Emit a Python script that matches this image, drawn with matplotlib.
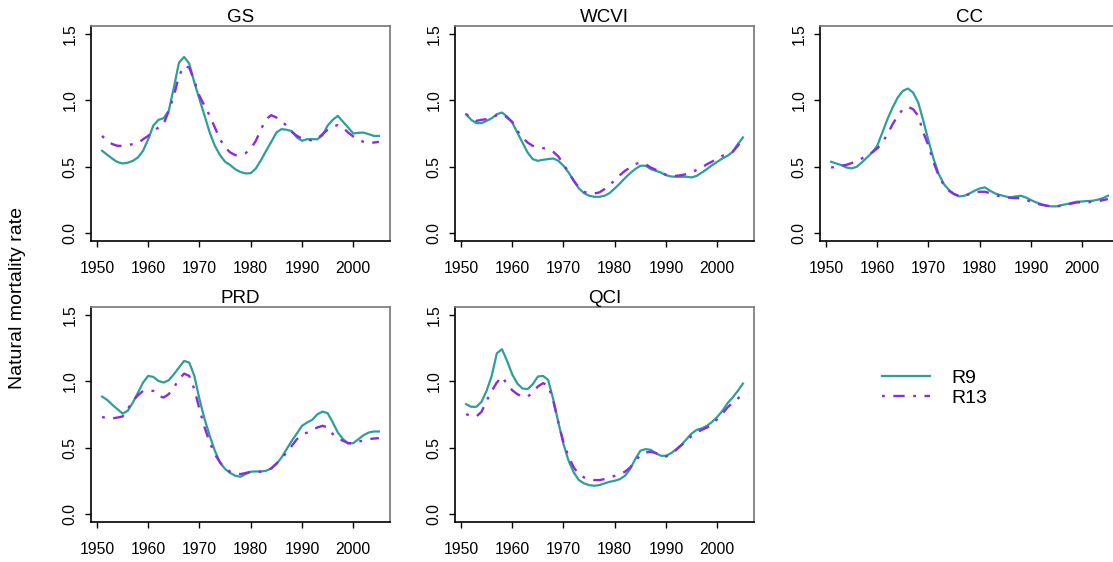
import numpy as np
import matplotlib
matplotlib.use("Agg")
import matplotlib.pyplot as plt
from matplotlib.ticker import FormatStrFormatter

plt.rcParams['font.family'] = ['Liberation Sans', 'DejaVu Sans']

years = np.arange(1951, 2006)

# natural mortality estimates per region, model R9 and model R13
gs_r9 = [0.62, 0.59, 0.56, 0.535, 0.524, 0.53, 0.544, 0.57, 0.62, 0.707,
         0.81, 0.853, 0.865, 0.92, 1.096, 1.284, 1.327, 1.277, 1.134, 1.008,
         0.883, 0.757, 0.657, 0.587, 0.537, 0.512, 0.48, 0.46, 0.449, 0.451,
         0.487, 0.549, 0.62, 0.687, 0.757, 0.783, 0.778, 0.768, 0.72, 0.695,
         0.707, 0.707, 0.707, 0.737, 0.81, 0.853, 0.883, 0.838, 0.795, 0.75,
         0.755, 0.757, 0.745, 0.732, 0.732]
gs_r13 = [0.732, 0.695, 0.67, 0.657, 0.657, 0.662, 0.67, 0.677, 0.707, 0.732,
          0.77, 0.795, 0.82, 0.92, 1.033, 1.184, 1.259, 1.247, 1.146, 1.033,
          0.958, 0.883, 0.795, 0.707, 0.645, 0.607, 0.587, 0.59, 0.602, 0.637,
          0.695, 0.783, 0.858, 0.888, 0.87, 0.845, 0.808, 0.762, 0.732, 0.712,
          0.707, 0.695, 0.712, 0.745, 0.778, 0.803, 0.813, 0.795, 0.757, 0.727,
          0.702, 0.687, 0.677, 0.682, 0.687]

wcvi_r9 = [0.895, 0.853, 0.828, 0.828, 0.845, 0.865, 0.895, 0.908, 0.878, 0.833,
           0.757, 0.682, 0.607, 0.557, 0.544, 0.552, 0.557, 0.562, 0.544, 0.507,
           0.456, 0.394, 0.336, 0.301, 0.281, 0.273, 0.273, 0.281, 0.301, 0.336,
           0.374, 0.414, 0.451, 0.482, 0.507, 0.507, 0.482, 0.469, 0.456, 0.436,
           0.426, 0.424, 0.424, 0.424, 0.419, 0.431, 0.456, 0.482, 0.512, 0.537,
           0.562, 0.582, 0.612, 0.67, 0.72]
wcvi_r13 = [0.895, 0.87, 0.845, 0.853, 0.858, 0.868, 0.888, 0.895, 0.87, 0.838,
            0.77, 0.72, 0.682, 0.657, 0.645, 0.64, 0.632, 0.612, 0.577, 0.519,
            0.456, 0.394, 0.344, 0.311, 0.298, 0.298, 0.306, 0.331, 0.361, 0.399,
            0.436, 0.469, 0.494, 0.519, 0.532, 0.519, 0.494, 0.477, 0.456, 0.439,
            0.431, 0.431, 0.436, 0.444, 0.456, 0.477, 0.494, 0.519, 0.539, 0.562,
            0.582, 0.594, 0.612, 0.657, 0.712]

cc_r9 = [0.537, 0.524, 0.512, 0.494, 0.487, 0.499, 0.532, 0.569, 0.607, 0.657,
         0.757, 0.858, 0.946, 1.021, 1.071, 1.089, 1.058, 0.983, 0.845, 0.695,
         0.557, 0.444, 0.369, 0.324, 0.293, 0.276, 0.281, 0.298, 0.319, 0.336,
         0.344, 0.319, 0.298, 0.286, 0.276, 0.268, 0.276, 0.281, 0.268, 0.248,
         0.231, 0.218, 0.206, 0.201, 0.201, 0.211, 0.218, 0.228, 0.236, 0.238,
         0.241, 0.243, 0.251, 0.263, 0.281]
cc_r13 = [0.494, 0.499, 0.507, 0.514, 0.527, 0.544, 0.562, 0.582, 0.607, 0.637,
          0.682, 0.745, 0.82, 0.883, 0.933, 0.951, 0.933, 0.883, 0.757, 0.657,
          0.532, 0.431, 0.361, 0.319, 0.293, 0.281, 0.281, 0.293, 0.306, 0.311,
          0.311, 0.301, 0.286, 0.276, 0.268, 0.266, 0.263, 0.263, 0.251, 0.236,
          0.223, 0.213, 0.206, 0.201, 0.201, 0.206, 0.213, 0.223, 0.231, 0.231,
          0.231, 0.236, 0.238, 0.248, 0.256]

prd_r9 = [0.885, 0.86, 0.823, 0.79, 0.757, 0.778, 0.84, 0.915, 0.991, 1.041,
          1.033, 1.003, 0.991, 1.008, 1.053, 1.104, 1.154, 1.141, 1.041, 0.865,
          0.715, 0.589, 0.477, 0.389, 0.339, 0.309, 0.288, 0.281, 0.301, 0.319,
          0.321, 0.321, 0.326, 0.344, 0.376, 0.426, 0.489, 0.552, 0.607, 0.665,
          0.69, 0.71, 0.752, 0.772, 0.76, 0.69, 0.614, 0.564, 0.532, 0.534,
          0.564, 0.594, 0.614, 0.622, 0.622]
prd_r13 = [0.732, 0.72, 0.72, 0.727, 0.735, 0.79, 0.853, 0.895, 0.928, 0.928,
           0.928, 0.89, 0.878, 0.903, 0.953, 1.016, 1.058, 1.041, 0.941, 0.79,
           0.652, 0.539, 0.451, 0.389, 0.344, 0.319, 0.306, 0.301, 0.309, 0.319,
           0.319, 0.319, 0.329, 0.344, 0.381, 0.419, 0.464, 0.514, 0.564, 0.597,
           0.614, 0.635, 0.652, 0.665, 0.652, 0.602, 0.569, 0.552, 0.534, 0.534,
           0.544, 0.557, 0.564, 0.569, 0.572]

qci_r9 = [0.828, 0.808, 0.808, 0.845, 0.928, 1.041, 1.211, 1.242, 1.154, 1.053,
          0.983, 0.946, 0.941, 0.978, 1.036, 1.041, 1.011, 0.865, 0.69, 0.527,
          0.401, 0.314, 0.256, 0.231, 0.218, 0.213, 0.218, 0.231, 0.243, 0.251,
          0.263, 0.288, 0.339, 0.414, 0.477, 0.489, 0.484, 0.459, 0.439, 0.439,
          0.459, 0.489, 0.522, 0.564, 0.607, 0.635, 0.645, 0.665, 0.695, 0.732,
          0.778, 0.835, 0.878, 0.928, 0.983]
qci_r13 = [0.752, 0.74, 0.735, 0.77, 0.853, 0.928, 0.991, 1.036, 0.978, 0.933,
           0.903, 0.885, 0.885, 0.915, 0.961, 0.986, 0.971, 0.853, 0.69, 0.539,
           0.431, 0.351, 0.301, 0.276, 0.263, 0.256, 0.256, 0.263, 0.276, 0.288,
           0.301, 0.319, 0.351, 0.401, 0.444, 0.464, 0.469, 0.459, 0.439, 0.434,
           0.451, 0.484, 0.519, 0.552, 0.589, 0.614, 0.635, 0.652, 0.677, 0.715,
           0.757, 0.803, 0.84, 0.87, 0.903]

regions = ["GS", "WCVI", "CC", "PRD", "QCI"]
r9_series = [gs_r9, wcvi_r9, cc_r9, prd_r9, qci_r9]
r13_series = [gs_r13, wcvi_r13, cc_r13, prd_r13, qci_r13]

teal = "#2E9E99"
purple = "#8A2BE2"

W, H = 1113, 562
fig = plt.figure(figsize=(W / 100, H / 100), dpi=100)

# panel boxes in pixels (left, top); all panels share one size
boxes = [(91, 26), (455, 26), (820, 26), (91, 307), (455, 307)]
pw, ph = 299, 215

for (px, py), name, r9, r13 in zip(boxes, regions, r9_series, r13_series):
    ax = fig.add_axes([px / W, 1 - (py + ph) / H, pw / W, ph / H])
    ax.plot(years, r9, color=teal, lw=1.6, label="R9")
    ax.plot(years, r13, color=purple, lw=1.7, dashes=(1.2, 3.6, 4.8, 3.6),
            label="R13")
    ax.set_xlim(1948.84, 2007.16)
    ax.set_ylim(-0.06, 1.56)
    ax.set_xticks([1950, 1960, 1970, 1980, 1990, 2000])
    ax.set_yticks([0.0, 0.5, 1.0, 1.5])
    ax.yaxis.set_major_formatter(FormatStrFormatter("%.1f"))
    ax.tick_params(direction="out", length=4.5, width=1.0, labelsize=11.3,
                   colors="black")
    ax.tick_params(axis="x", pad=10)
    ax.tick_params(axis="y", pad=5)
    for lab in ax.get_yticklabels():
        lab.set_rotation(90)
        lab.set_va("center")
    for side in ["top", "right"]:
        ax.spines[side].set_color("#777777")
        ax.spines[side].set_linewidth(1.2)
    for side in ["left", "bottom"]:
        ax.spines[side].set_color("black")
        ax.spines[side].set_linewidth(1.2)
    ax.set_title(name, fontsize=13.5, pad=-2)
    if name == "GS":
        handles = ax.get_lines()

fig.text(18 / W, 1 - 298 / H, "Natural mortality rate", rotation=90,
         ha="center", va="center", fontsize=14)

fig.legend(handles, ["R9", "R13"], loc="center left",
           bbox_to_anchor=(872 / W, 1 - 388 / H), frameon=False,
           fontsize=14, borderpad=0, handlelength=2.5, handletextpad=1.1,
           labelspacing=0.15)

fig.savefig("out.png", dpi=100)
